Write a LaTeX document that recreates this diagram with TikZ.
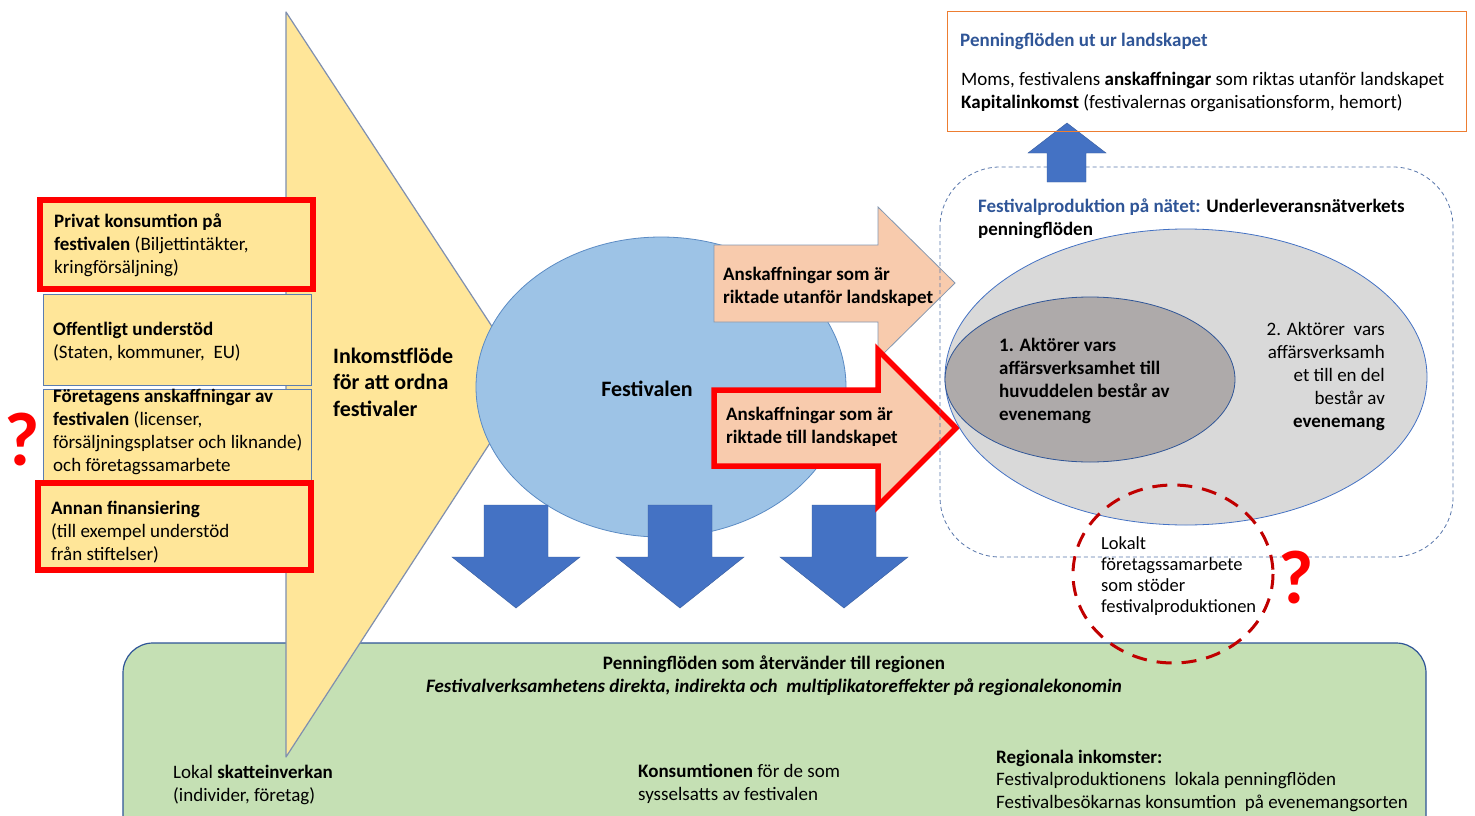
\documentclass[tikz,border=0pt]{standalone}
\usepackage{fontspec}
\setmainfont{Carlito}
\usetikzlibrary{shapes.geometric}
\newcommand\myfs[2]{\fontsize{#1}{#2}\selectfont}
\definecolor{yel}{HTML}{FFE699}
\definecolor{triedge}{HTML}{7F8FAF}
\definecolor{boxedge}{HTML}{5B7DB1}
\definecolor{festblue}{HTML}{9DC3E6}
\definecolor{festedge}{HTML}{5B8BC4}
\definecolor{arrblue}{HTML}{4472C4}
\definecolor{orng}{HTML}{F8CBAD}
\definecolor{orngedge}{HTML}{8497B0}
\definecolor{gry}{HTML}{D9D9D9}
\definecolor{dgry}{HTML}{AEAAAA}
\definecolor{dblue}{HTML}{2F5597}
\definecolor{grn}{HTML}{C5E0B4}
\definecolor{orline}{HTML}{ED7D31}
\definecolor{dred}{HTML}{C00000}
\definecolor{qred}{HTML}{FF0000}
\tikzset{
  txt/.style={inner sep=0pt, anchor=base west, align=left, font=\myfs{19}{23}},
  txtb/.style={txt, font=\myfs{19}{23}\bfseries},
  yelbox/.style={draw=boxedge, line width=0.8pt, fill=yel},
  redbox/.style={draw=qred, line width=5.5pt, fill=yel},
  blockarrow/.style={fill=arrblue, draw=arrblue!80!black, line width=0.4pt},
  orngarrow/.style={fill=orng, draw=orngedge, line width=0.8pt},
  qmark/.style={inner sep=0pt, text=qred, font=\myfs{76}{76}\bfseries},
}
\begin{document}
\begin{tikzpicture}[x=1pt,y=-1pt]
\clip (0,0) rectangle (1475,816);
\fill[white] (0,0) rectangle (1475,816);

% green region box
\draw[fill=grn, draw=dblue, line width=1.2pt, rounded corners=30pt] (123,643) rectangle (1426,870);

% big yellow income arrow
\draw[fill=yel, draw=triedge, line width=1.2pt, line join=round] (286,12) -- (529,383) -- (286,757) -- cycle;

% left boxes
\filldraw[yelbox, fill=yel] (43,389) rectangle (311,485);
\filldraw[yelbox, fill=yel] (43,294) rectangle (311,385);
\filldraw[redbox, fill=yel] (40,200) rectangle (313,289);
\filldraw[redbox, fill=yel] (38,483) rectangle (311,570);

\node[txt] (b1) at (54,273) {\textbf{Privat konsumtion på}\\\textbf{festivalen} (Biljettintäkter,\\kringförsäljning)};
\node[txt] (b2) at (53,358) {\textbf{Offentligt understöd}\\(Staten, kommuner,\ \ EU)};
\node[txt] (b3) at (53,471) {\textbf{Företagens anskaffningar av}\\\textbf{festivalen} (licenser,\\försäljningsplatser och liknande)\\och företagssamarbete};
\node[txt] (b4) at (51,560) {\textbf{Annan finansiering}\\(till exempel understöd\\från stiftelser)};

\node[qmark] (q1) at (22,440) {?};

\node[txt, font=\myfs{22}{26.5}\bfseries] (ink) at (333,416) {Inkomstflöde\\för att ordna\\festivaler};

% festival ellipse
\node[ellipse, fill=festblue, draw=festedge, line width=0.8pt, minimum width=370pt, minimum height=300pt, inner sep=0pt] (fest) at (661,387) {};
\node[inner sep=0pt, anchor=base, font=\myfs{22}{26}\bfseries] (festtxt) at (647,396) {Festivalen};

% down arrows
\foreach \c in {516,680,844}{
  \path[blockarrow] (\c-32,505) -- (\c+32,505) -- (\c+32,557) -- (\c+64,557) -- (\c,608) -- (\c-64,557) -- (\c-32,557) -- cycle;
}

% orange arrows
\path[orngarrow] (714,245) -- (878,245) -- (878,207) -- (955,283) -- (878,359) -- (878,322) -- (714,322) -- cycle;
\node[txtb] (oa1) at (723,303) {Anskaffningar som är\\riktade utanför landskapet};
\path[orngarrow, draw=qred, line width=5.5pt, line join=miter] (714,390) -- (878,390) -- (878,350) -- (956,428) -- (878,506) -- (878,466) -- (714,466) -- cycle;
\node[txtb] (oa2) at (726,443) {Anskaffningar som är\\riktade till landskapet};

% network dashed region
\draw[draw=dblue!80, line width=0.8pt, dash pattern=on 4pt off 3pt, rounded corners=60pt] (940,167) rectangle (1453,557);
\node[txtb] (net) at (978,235) {\textcolor{dblue}{Festivalproduktion på nätet:} Underleveransnätverkets\\penningflöden};

% up arrow
\path[blockarrow] (1047,182) -- (1086,182) -- (1086,153) -- (1106,153) -- (1067,123) -- (1028,153) -- (1047,153) -- cycle;

% outflow box
\draw[draw=orline, line width=1pt] (947,12) rectangle (1466,131);
\node[txtb, text=dblue] (outt) at (960,47) {Penningflöden ut ur landskapet};
\node[txt] (outb) at (961,108) {Moms,\ festivalens \textbf{anskaffningar} som riktas utanför landskapet\\\textbf{Kapitalinkomst} (festivalernas organisationsform, hemort)};

% actor ellipses
\node[ellipse, fill=gry, draw=arrblue, line width=0.8pt, minimum width=482pt, minimum height=296pt, inner sep=0pt] (e2) at (1186,377) {};
\node[ellipse, fill=dgry, draw=dblue, line width=0.8pt, minimum width=290pt, minimum height=165pt, inner sep=0pt] (e1) at (1090,379.5) {};
\node[txtb] (e1t) at (999,420) {1. Aktörer vars\\affärsverksamhet till\\huvuddelen består av\\evenemang};
\node[txt, anchor=base east, align=right] (e2t) at (1385,427) {2. Aktörer\ \ vars\\affärsverksamh\\et till en del\\består av\\\textbf{evenemang}};

% local cooperation circle
\draw[dred, line width=3pt, dash pattern=on 15pt off 10pt] (1173,574) ellipse [x radius=100, y radius=89];
\node[txt, font=\myfs{18.5}{21}] (lok) at (1101,612) {Lokalt\\företagssamarbete\\som stöder\\festivalproduktionen};
\node[qmark] (q2) at (1296,578) {?};

% region texts
\node[inner sep=0pt, anchor=base, font=\myfs{19}{23}\bfseries] (reg1) at (774,669) {Penningflöden som återvänder till regionen};
\node[inner sep=0pt, anchor=base, font=\myfs{19}{23}\bfseries\itshape] (reg2) at (774,692) {Festivalverksamhetens direkta, indirekta och\ \ multiplikatoreffekter på regionalekonomin};
\node[txt, font=\myfs{19}{22.5}] (lok2) at (173,801) {Lokal \textbf{skatteinverkan}\\(individer, företag)};
\node[txt, font=\myfs{19}{22.5}] (kons) at (638,800) {\textbf{Konsumtionen} för de som\\sysselsatts av festivalen};
\node[txt, font=\myfs{19}{22.5}] (regi) at (996,808) {\textbf{Regionala inkomster:}\\Festivalproduktionens\ \ lokala penningflöden\\Festivalbesökarnas konsumtion\ \ på evenemangsorten};
\end{tikzpicture}
\end{document}
